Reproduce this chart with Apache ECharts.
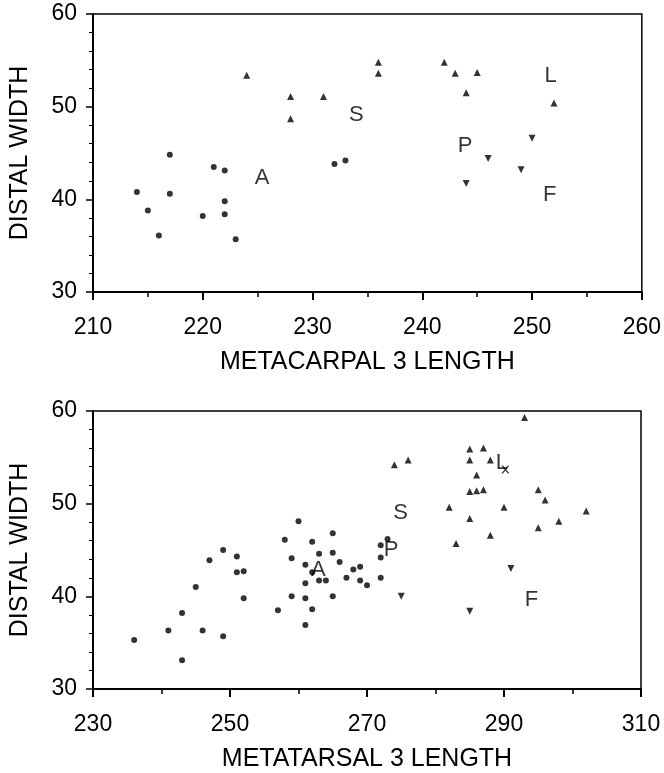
<!DOCTYPE html>
<html>
<head>
<meta charset="utf-8">
<script src="https://cdn.jsdelivr.net/npm/echarts@6/dist/echarts.min.js"></script>
<style>
html,body{margin:0;padding:0;background:#fff;}
#chart{width:664px;height:773px;}
</style>
</head>
<body>
<div id="chart"></div>
<script>
// ---- Top panel: metacarpal 3 ----
const mcTitleX = 'METACARPAL 3 LENGTH';
const mcTitleY = 'DISTAL WIDTH';
const mcXTicks = [210, 260, 10];
const mcA = [[214,40.8],[215,38.8],[216,36.1],[217,44.8],[217,40.6],[220,38.2],[221,43.5],[222,43.1],[222,39.8],[222,38.4],[223,35.7],[232,43.8],[233,44.2]];
const mcS = [[224,53.4],[228,51.1],[228,48.7],[231,51.1],[236,54.8],[236,53.6]];
const mcL = [[242,54.8],[243,53.6],[245,53.7],[244,51.5],[252,50.4]];
const mcPF = [[246,44.4],[249,43.2],[244,41.7],[250,46.6]];
const mcLabels = [[225.4,42.3,'A'],[234.0,49.1,'S'],[251.7,53.3,'L'],[243.9,45.8,'P'],[251.6,40.5,'F']];

// ---- Bottom panel: metatarsal 3 ----
const mtTitleX = 'METATARSAL 3 LENGTH';
const mtTitleY = 'DISTAL WIDTH';
const mtXTicks = [230, 310, 20];
const mtA = [[236,35.3],[241,36.3],[243,38.2],[243,33.1],[245,41.0],[246,36.3],[247,43.9],[249,35.7],[249,45.0],[251,44.3],[251,42.6],[252,42.7],[252,39.8],[257,38.5],[258,46.1],[259,44.1],[259,40.0],[260,48.1],[261,43.4],[261,41.4],[261,39.8],[261,36.9],[262,45.9],[262,42.6],[262,38.6],[263,44.6],[263,41.7],[264,41.7],[265,46.8],[265,44.7],[265,40.0],[266,43.7],[267,42.0],[268,42.9],[269,43.2],[269,41.7],[270,41.2],[272,42.0],[272,44.2],[272,45.5],[273,46.2]];
const mtSL = [[274,54.2],[276,54.7],[293,59.3],[285,55.9],[287,56.0],[285,54.7],[288,54.7],[286,53.1],[285,51.3],[286,51.4],[287,51.5],[282,49.6],[290,49.6],[285,48.4],[295,51.5],[296,50.4],[302,49.2],[298,48.1],[295,47.4],[288,46.6],[283,45.7]];
const mtPF = [[275,40.0],[285,38.4],[291,43.0]];
const mtCross = [[290.2,53.7]];
const mtLabels = [[262.9,42.8,'A'],[274.9,49.0,'S'],[289.7,54.4,'L'],[273.5,45.0,'P'],[294.0,39.6,'F']];

const yTicks = [30, 60, 10];

const FONT = 'Liberation Sans, Arial, Helvetica, sans-serif';

function xAxisCfg(idx, ticks, name){
  return {
    type:'value', gridIndex: idx, min: ticks[0], max: ticks[1], interval: ticks[2],
    name: name, nameLocation:'middle', nameGap: 58,
    nameTextStyle:{color:'#000', fontSize:25, fontFamily:FONT},
    axisLine:{show:true, onZero:false, lineStyle:{color:'#000', width:2}},
    axisTick:{show:true, inside:false, length:8, lineStyle:{color:'#000', width:2}},
    minorTick:{show:true, splitNumber:2, length:5, lineStyle:{color:'#000', width:1.5}},
    axisLabel:{color:'#000', fontSize:23, fontFamily:FONT, margin:24},
    splitLine:{show:false}, minorSplitLine:{show:false}
  };
}
function yAxisCfg(idx, name){
  return {
    type:'value', gridIndex: idx, min: yTicks[0], max: yTicks[1], interval: yTicks[2],
    name: name, nameLocation:'middle', nameGap: 60, nameRotate: 90,
    nameTextStyle:{color:'#000', fontSize:25, fontFamily:FONT},
    axisLine:{show:true, onZero:false, lineStyle:{color:'#000', width:2}},
    axisTick:{show:true, inside:false, length:7, lineStyle:{color:'#000', width:1.5}},
    minorTick:{show:true, splitNumber:5, length:4, lineStyle:{color:'#000', width:1}},
    axisLabel:{color:'#000', fontSize:23, fontFamily:FONT, margin:16},
    splitLine:{show:false}, minorSplitLine:{show:false}
  };
}
function pts(idx, data, symbol, size, rotate){
  return {type:'scatter', xAxisIndex:idx, yAxisIndex:idx, data:data, symbol:symbol,
    symbolSize:size, symbolRotate: rotate||0, itemStyle:{color:'#000'}, silent:true, animation:false};
}
function labels(idx, data){
  return {type:'scatter', xAxisIndex:idx, yAxisIndex:idx, data:data, symbol:'circle', symbolSize:1,
    itemStyle:{color:'rgba(0,0,0,0)'}, silent:true, animation:false,
    label:{show:true, position:'inside', formatter:p=>p.data[2], color:'#000', fontSize:22, fontFamily:FONT}};
}

const chart = echarts.init(document.getElementById('chart'), null, {renderer:'canvas'});
chart.setOption({
  backgroundColor:'#fff',
  animation:false,
  grid:[
    {left:89, top:14, width:555, height:278, show:true, borderColor:'#000', borderWidth:1.5, backgroundColor:'#fff'},
    {left:87, top:411, width:554, height:280, show:true, borderColor:'#000', borderWidth:1.5, backgroundColor:'#fff'}
  ],
  xAxis:[xAxisCfg(0, mcXTicks, mcTitleX), xAxisCfg(1, mtXTicks, mtTitleX)],
  yAxis:[yAxisCfg(0, mcTitleY), yAxisCfg(1, mtTitleY)],
  series:[
    pts(0, mcA, 'circle', 6),
    pts(0, mcS, 'triangle', 7),
    pts(0, mcL, 'triangle', 7),
    pts(0, mcPF, 'triangle', 7, 180),
    labels(0, mcLabels),
    pts(1, mtA, 'circle', 6),
    pts(1, mtSL, 'triangle', 7),
    pts(1, mtPF, 'triangle', 7, 180),
    pts(1, mtCross, 'path://M0,0L2,0L5,3L8,0L10,0L6,4L10,8L8,8L5,5L2,8L0,8L4,4Z', 8),
    labels(1, mtLabels)
  ]
});
</script>
</body>
</html>
